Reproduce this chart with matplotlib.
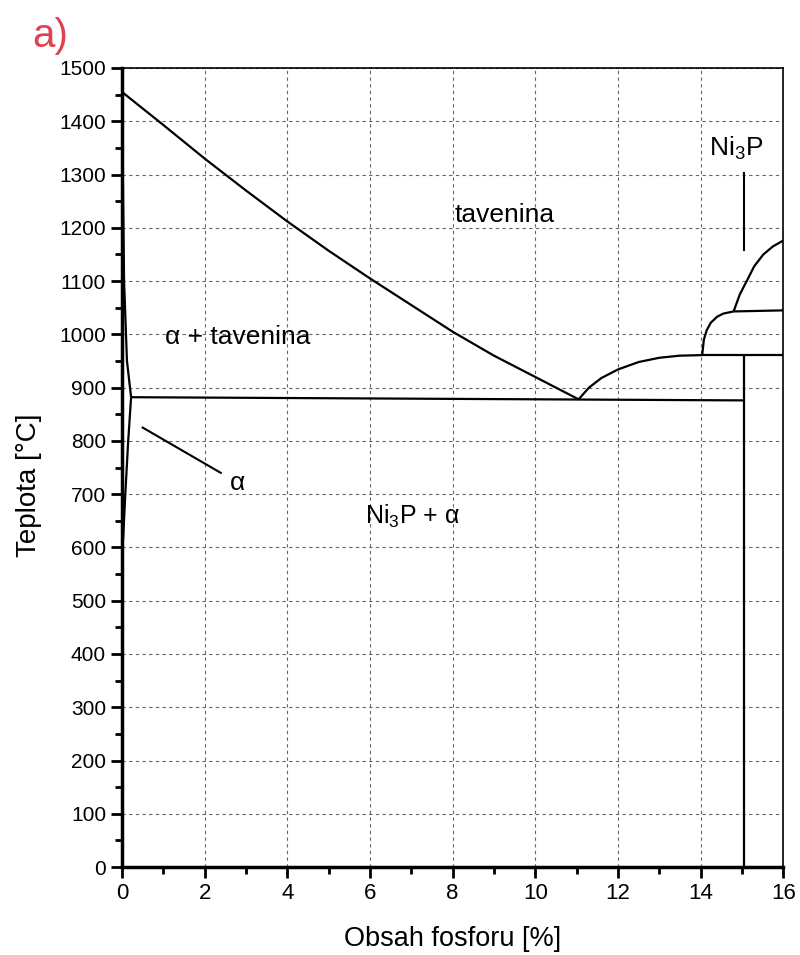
import numpy as np
import matplotlib.pyplot as plt
from matplotlib.ticker import MultipleLocator

plt.rcParams['font.family'] = ['Liberation Sans', 'DejaVu Sans']
plt.rcParams['mathtext.fontset'] = 'custom'
plt.rcParams['mathtext.rm'] = 'Liberation Sans'

# Liquidus (nickel side) down to the eutectic point
liq_x = [0, 1, 2, 3, 4, 5, 6, 7, 8, 9, 10, 11.05]
liq_t = [1455, 1393, 1330, 1270, 1212, 1157, 1105, 1055, 1005, 960, 920, 878]

# Solidus and solvus of alpha near x = 0
sol_x = [0, 0.02, 0.05, 0.12, 0.22]
sol_t = [1455, 1300, 1100, 950, 882]
solv_x = [0.22, 0.15, 0.08, 0.03, 0]
solv_t = [882, 800, 700, 620, 590]

# Eutectic line
eut_x = [0.22, 15.05]
eut_t = [882, 876]

# Liquidus (Ni3P side)
liq2_x = [11.05, 11.3, 11.6, 12.0, 12.5, 13.0, 13.5, 14.04]
liq2_t = [878, 900, 918, 934, 948, 956, 960, 961]

# Upper phase lines on the right
arc1_x = [14.04, 14.08, 14.15, 14.25, 14.4, 14.55, 14.8]
arc1_t = [961, 990, 1008, 1022, 1033, 1039, 1043]
arc2_x = [14.8, 14.95, 15.13, 15.3, 15.52, 15.75, 16.0]
arc2_t = [1043, 1075, 1102, 1128, 1150, 1165, 1176]
h961_x = [14.04, 16.0]
h961_t = [961, 961]
h1043_x = [14.8, 16.0]
h1043_t = [1043, 1045]
vert_x = [15.05, 15.05]
vert_t = [0, 961]

fig = plt.figure(figsize=(8, 9.55), dpi=100)
ax = fig.add_axes([0.1525, 0.0921, 0.8265, 0.8367])

lw = 1.6
for xs, ts in [(liq_x, liq_t), (sol_x, sol_t), (solv_x, solv_t), (eut_x, eut_t),
               (liq2_x, liq2_t), (arc1_x, arc1_t), (arc2_x, arc2_t),
               (h961_x, h961_t), (h1043_x, h1043_t), (vert_x, vert_t)]:
    ax.plot(xs, ts, color='black', lw=lw, solid_capstyle='butt')

# leader lines
ax.plot([0.5, 2.39], [825, 740], color='black', lw=1.5)
ax.plot([15.05, 15.05], [1303, 1158], color='black', lw=1.5)

# phase labels
fs = 19
ax.text(9.27, 1211, 'tavenina', fontsize=fs, ha='center', va='baseline')
ax.text(1.05, 982, 'α + tavenina', fontsize=fs, ha='left', va='baseline')
ax.text(2.62, 707, 'α', fontsize=fs, ha='left', va='baseline')
ax.text(7.03, 645, 'Ni$_3$P + α', fontsize=18, ha='center', va='baseline')
ax.text(14.85, 1335, 'Ni$_3$P', fontsize=fs, ha='center', va='baseline')

ax.set_xlim(0, 16)
ax.set_ylim(0, 1500)
ax.xaxis.set_major_locator(MultipleLocator(2))
ax.xaxis.set_minor_locator(MultipleLocator(1))
ax.yaxis.set_major_locator(MultipleLocator(100))
ax.yaxis.set_minor_locator(MultipleLocator(50))
ax.tick_params(which='major', direction='out', length=8, width=2, labelsize=15)
ax.tick_params(which='minor', direction='out', length=5, width=2)
ax.tick_params(axis='x', which='major', labelsize=16)
ax.grid(True, which='major', ls=(0, (3, 3)), color='#666666', lw=0.8)

ax.spines['left'].set_linewidth(2.5)
ax.spines['bottom'].set_linewidth(2.5)
ax.spines['top'].set_linewidth(1.2)
ax.spines['right'].set_linewidth(1.2)

ax.set_xlabel('Obsah fosforu [%]', fontsize=19.5, labelpad=16)
ax.set_ylabel('Teplota [°C]', fontsize=20)
ax.yaxis.set_label_coords(-0.121, 0.478)

fig.text(0.04, 0.962, 'a)', fontsize=29, color='#e04050', ha='left', va='center')

fig.savefig('out.png', dpi=100)
